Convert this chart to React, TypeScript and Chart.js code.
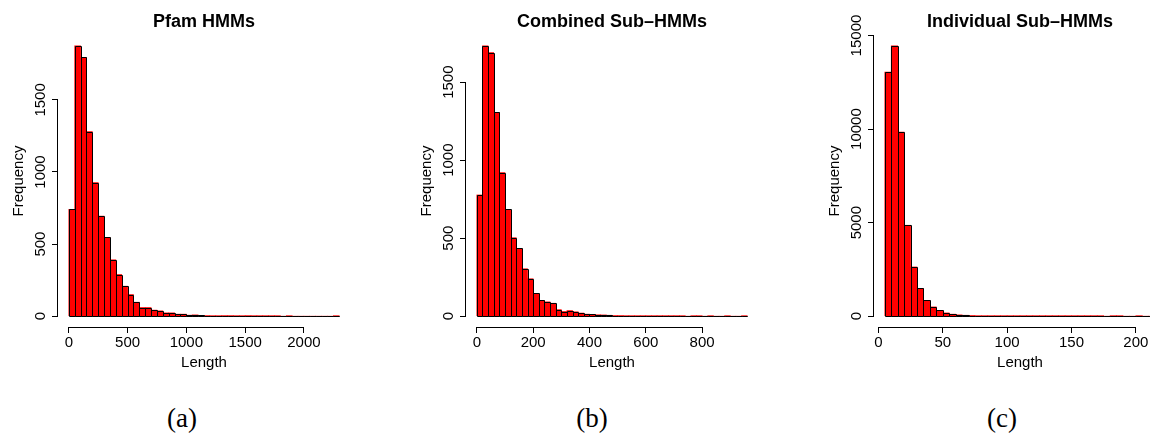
import { useEffect, useRef } from "react";
import { Chart, registerables } from "chart.js";

Chart.register(...registerables);

// ---------- data ----------
const pfamStart = 0;
const pfamBin = 50;
const pfamCounts = [
  741, 1875, 1794, 1280, 926, 694, 546, 391, 289, 208,
  150, 97, 60, 60, 42, 37, 23, 23, 14, 14,
  7, 9, 5, 4, 3, 2, 4, 4, 2, 2,
  4, 2, 2, 1, 1, 1, 0, 1, 0, 0,
  0, 0, 0, 0, 0, 1,
];
const pfamXTicks = [0, 500, 1000, 1500, 2000];
const pfamYTicks = [0, 500, 1000, 1500];

const combinedStart = 0;
const combinedBin = 20;
const combinedCounts = [
  777, 1733, 1690, 1307, 920, 685, 503, 434, 304, 240,
  146, 101, 92, 83, 42, 30, 36, 28, 20, 13,
  11, 9, 8, 6, 4, 4, 3, 3, 2, 2,
  3, 1, 2, 1, 1, 2, 1, 0, 1, 1,
  0, 1, 0, 0, 1, 0, 0, 1,
];
const combinedXTicks = [0, 200, 400, 600, 800];
const combinedYTicks = [0, 500, 1000, 1500];

const individualStart = 5;
const individualBin = 5;
const individualCounts = [
  13050, 14450, 9840, 4860, 2630, 1480, 840, 495, 304, 175,
  107, 71, 50, 36, 26, 19, 14, 11, 9, 7,
  6, 5, 4, 4, 3, 3, 2, 2, 2, 1,
  1, 1, 1, 1, 0, 1, 3, 0, 0, 1,
  0, 0,
];
const individualXTicks = [0, 50, 100, 150, 200];
const individualYTicks = [0, 5000, 10000, 15000];

const captions = ["(a)", "(b)", "(c)"];

// ---------- styling ----------
const SANS = '"Liberation Sans", Arial, Helvetica, sans-serif';

// R-style axis lines spanning only from the first to the last tick
const rAxisLines = {
  id: "rAxisLines",
  afterDraw(chart: any) {
    const { ctx, scales, chartArea } = chart;
    const x = scales.x;
    const y = scales.y;
    const xt = x.ticks;
    const yt = y.ticks;
    ctx.save();
    ctx.strokeStyle = "#000";
    ctx.lineWidth = 1;
    ctx.beginPath();
    const yb = Math.round(chartArea.bottom) + 0.5;
    ctx.moveTo(x.getPixelForValue(xt[0].value), yb);
    ctx.lineTo(x.getPixelForValue(xt[xt.length - 1].value), yb);
    const xl = Math.round(chartArea.left) - 0.5;
    ctx.moveTo(xl, y.getPixelForValue(yt[0].value));
    ctx.lineTo(xl, y.getPixelForValue(yt[yt.length - 1].value));
    ctx.stroke();
    ctx.restore();
  },
};

// R-style bar outlines: 1px strokes centred on the bar edges (shared edges overlap)
const rBarOutlines = {
  id: "rBarOutlines",
  afterDatasetsDraw(chart: any) {
    const { ctx } = chart;
    const meta = chart.getDatasetMeta(0);
    ctx.save();
    ctx.strokeStyle = "#000";
    ctx.lineWidth = 1;
    meta.data.forEach((el: any) => {
      const p = el.getProps(["x", "y", "base", "width"], true);
      const l = Math.round(p.x - p.width / 2) + 0.5;
      const r = Math.round(p.x + p.width / 2) + 0.5;
      const t = Math.round(Math.min(p.y, p.base)) + 0.5;
      const b = Math.round(Math.max(p.y, p.base)) + 0.5;
      ctx.beginPath();
      ctx.rect(l, t, r - l, b - t);
      ctx.stroke();
    });
    ctx.restore();
  },
};

type PanelProps = {
  title: string;
  start: number;
  bin: number;
  counts: number[];
  xTicks: number[];
  yTicks: number[];
  left: number;
  yLabelPad: number;
};

function Panel({ title, start, bin, counts, xTicks, yTicks, left, yLabelPad }: PanelProps) {
  const ref = useRef<HTMLCanvasElement | null>(null);
  useEffect(() => {
    if (!ref.current) return;
    const n = counts.length;
    const end = start + bin * n;
    const xr = end - start;
    const maxC = Math.max(...counts);
    const chart = new Chart(ref.current, {
      type: "bar",
      data: {
        datasets: [
          {
            data: counts.map((c, i) => ({ x: start + bin * (i + 0.5), y: c })),
            backgroundColor: "#FF0000",
            borderWidth: 0,
            barPercentage: 1,
            categoryPercentage: 1,
            inflateAmount: 0.33,
          } as any,
        ],
      },
      options: {
        animation: false,
        responsive: false,
        maintainAspectRatio: false,
        layout: { padding: 0 },
        events: [],
        plugins: {
          legend: { display: false },
          tooltip: { enabled: false },
          title: {
            display: true,
            text: title,
            fullSize: false,
            color: "#000",
            font: { family: SANS, size: 18, weight: "bold" },
            padding: { top: 11.2, bottom: 2.2 },
          },
        },
        scales: {
          x: {
            type: "linear",
            offset: false,
            min: start - 0.04 * xr,
            max: end + 0.04 * xr,
            afterBuildTicks: (s: any) => {
              s.ticks = xTicks.map((v) => ({ value: v }));
            },
            afterFit: (s: any) => {
              s.height = 53;
            },
            grid: {
              display: true,
              offset: false,
              drawOnChartArea: false,
              drawTicks: true,
              tickLength: 6,
              color: "#000",
            },
            border: { display: false },
            ticks: {
              color: "#000",
              font: { family: SANS, size: 15 },
              padding: 1,
              maxRotation: 0,
              minRotation: 0,
              autoSkip: false,
              callback: (v: any) => String(v),
            },
            title: {
              display: true,
              text: "Length",
              color: "#000",
              font: { family: SANS, size: 15 },
              padding: { top: 0, bottom: 8 },
            },
          },
          y: {
            type: "linear",
            min: -0.04 * maxC,
            max: 1.04 * maxC,
            afterBuildTicks: (s: any) => {
              s.ticks = yTicks.map((v) => ({ value: v }));
            },
            afterFit: (s: any) => {
              s.width = 58;
            },
            grid: {
              display: true,
              offset: false,
              drawOnChartArea: false,
              drawTicks: true,
              tickLength: 6,
              color: "#000",
            },
            border: { display: false },
            ticks: {
              color: "#000",
              font: { family: SANS, size: 15 },
              padding: yLabelPad,
              minRotation: 90,
              maxRotation: 90,
              crossAlign: "center",
              autoSkip: false,
              callback: (v: any) => String(v),
            },
            title: {
              display: true,
              text: "Frequency",
              color: "#000",
              font: { family: SANS, size: 15 },
              padding: { top: 10, bottom: 0 },
            },
          },
        } as any,
      },
      plugins: [rBarOutlines, rAxisLines],
    });
    return () => chart.destroy();
  }, []);
  return (
    <canvas
      ref={ref}
      width={350}
      height={380}
      style={{ position: "absolute", left, top: 0, width: 350, height: 380 }}
    />
  );
}

export default function App() {
  const capX = [182, 592, 1002];
  return (
    <div
      style={{
        position: "absolute",
        left: 0,
        top: 0,
        width: 1150,
        height: 433,
        overflow: "hidden",
        background: "#fff",
      }}
    >
      <Panel title="Pfam HMMs" start={pfamStart} bin={pfamBin} counts={pfamCounts} xTicks={pfamXTicks} yTicks={pfamYTicks} left={0} yLabelPad={-5.5} />
      <Panel title="Combined Sub–HMMs" start={combinedStart} bin={combinedBin} counts={combinedCounts} xTicks={combinedXTicks} yTicks={combinedYTicks} left={408} yLabelPad={-5.9} />
      <Panel title="Individual Sub–HMMs" start={individualStart} bin={individualBin} counts={individualCounts} xTicks={individualXTicks} yTicks={individualYTicks} left={816} yLabelPad={-9.4} />
      {captions.map((c, i) => (
        <div
          key={c}
          style={{
            position: "absolute",
            left: capX[i],
            top: 403,
            transform: "translateX(-50%)",
            fontFamily: '"Liberation Serif", "DejaVu Serif", serif',
            fontSize: 27,
            lineHeight: "30px",
            color: "#000",
            whiteSpace: "nowrap",
          }}
        >
          {c}
        </div>
      ))}
    </div>
  );
}
